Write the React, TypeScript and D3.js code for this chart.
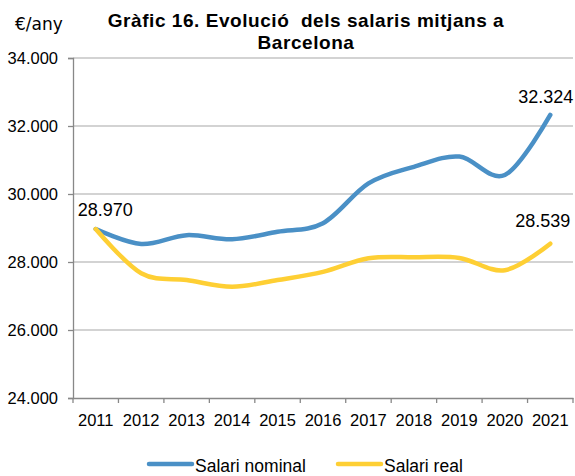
import React, { useEffect, useRef } from "react";
import * as d3 from "d3";

const years = ["2011", "2012", "2013", "2014", "2015", "2016", "2017", "2018", "2019", "2020", "2021"];
const salariNominal = [28970, 28530, 28790, 28670, 28890, 29140, 30310, 30800, 31100, 30560, 32324];
const salariReal = [28970, 27670, 27470, 27270, 27470, 27710, 28110, 28140, 28120, 27760, 28539];
const yTicks = [24000, 26000, 28000, 30000, 32000, 34000];

const BLUE = "#4a90c6";
const YELLOW = "#fecf34";
const FONT = "'Liberation Sans', Arial, sans-serif";

const fmt = (v: number) => d3.format(",")(v).replace(/,/g, ".");

const App: React.FC = () => {
  const svgRef = useRef<SVGSVGElement | null>(null);

  useEffect(() => {
    if (!svgRef.current) return;
    const width = 575;
    const height = 476;
    const margin = { top: 58, right: 2, bottom: 78, left: 73 };

    const svg = d3.select(svgRef.current).attr("width", width).attr("height", height);
    svg.selectAll("*").remove();

    const x = d3
      .scaleBand<string>()
      .domain(years)
      .range([margin.left, width - margin.right])
      .padding(0);
    const y = d3
      .scaleLinear()
      .domain([24000, 34000])
      .range([height - margin.bottom, margin.top]);
    const cx = (i: number) => x(years[i])! + x.bandwidth() / 2;

    // titre
    const title = svg
      .append("text")
      .attr("text-anchor", "middle")
      .style("font-family", FONT)
      .style("font-weight", "bold")
      .style("font-size", "19px")
      .style("letter-spacing", "0.55px")
      .style("white-space", "pre");
    title.append("tspan").attr("x", 306).attr("y", 27).text("Gràfic 16. Evolució  dels salaris mitjans a");
    title.append("tspan").attr("x", 306).attr("y", 49).text("Barcelona");

    svg
      .append("text")
      .attr("x", 15)
      .attr("y", 30)
      .style("font-family", "'DejaVu Sans', sans-serif")
      .style("font-size", "17px")
      .text("€/any");

    // grille
    svg
      .append("g")
      .selectAll("line")
      .data(yTicks.filter((d) => d > 24000))
      .enter()
      .append("line")
      .attr("x1", margin.left)
      .attr("x2", width - margin.right)
      .attr("y1", (d) => y(d))
      .attr("y2", (d) => y(d))
      .style("stroke", "#c4c4c4")
      .style("stroke-width", 1.3);

    // axe Y
    const yAxis = svg
      .append("g")
      .attr("transform", `translate(${margin.left},0)`)
      .call(
        d3
          .axisLeft(y)
          .tickValues(yTicks)
          .tickSize(5)
          .tickPadding(10)
          .tickFormat((d) => fmt(d as number))
      );
    yAxis.select(".domain").style("stroke", "#888").style("stroke-width", 1.3);
    yAxis.selectAll("line").style("stroke", "#888").style("stroke-width", 1.3);
    yAxis
      .selectAll("text")
      .style("font-family", FONT)
      .style("font-size", "16.5px")
      .style("fill", "#000");

    // axe X
    const xAxis = svg
      .append("g")
      .attr("transform", `translate(0,${height - margin.bottom})`)
      .call(d3.axisBottom(x).tickSize(0).tickPadding(16));
    xAxis.select(".domain").style("stroke", "#888").style("stroke-width", 1.3);
    xAxis
      .selectAll("text")
      .style("font-family", FONT)
      .style("font-size", "16.5px")
      .style("fill", "#000");
    xAxis
      .append("g")
      .selectAll("line")
      .data([...years.map((d) => x(d)!), width - margin.right])
      .enter()
      .append("line")
      .attr("x1", (d) => d)
      .attr("x2", (d) => d)
      .attr("y1", 0)
      .attr("y2", 5)
      .style("stroke", "#888")
      .style("stroke-width", 1.3);

    // courbes
    const line = d3
      .line<number>()
      .x((_, i) => cx(i))
      .y((d) => y(d))
      .curve(d3.curveCatmullRom.alpha(0));

    svg
      .append("path")
      .datum(salariNominal)
      .attr("d", line)
      .style("fill", "none")
      .style("stroke", BLUE)
      .style("stroke-width", 4.5)
      .style("stroke-linecap", "round");
    svg
      .append("path")
      .datum(salariReal)
      .attr("d", line)
      .style("fill", "none")
      .style("stroke", YELLOW)
      .style("stroke-width", 4.5)
      .style("stroke-linecap", "round");

    // étiquettes
    const last = years.length - 1;
    const labels = [
      { v: salariNominal[0], x: cx(0) - 18, y: y(salariNominal[0]) - 13 },
      { v: salariNominal[last], x: cx(last) - 32, y: y(salariNominal[last]) - 12 },
      { v: salariReal[last], x: cx(last) - 35, y: y(salariReal[last]) - 17 },
    ];
    svg
      .append("g")
      .selectAll("text")
      .data(labels)
      .enter()
      .append("text")
      .attr("x", (d) => d.x)
      .attr("y", (d) => d.y)
      .style("font-family", FONT)
      .style("font-size", "18px")
      .text((d) => fmt(d.v));

    // légende
    const legend = [
      { name: "Salari nominal", color: BLUE, x: 149 },
      { name: "Salari real", color: YELLOW, x: 338 },
    ];
    const lg = svg.append("g").selectAll("g").data(legend).enter().append("g");
    lg.append("line")
      .attr("x1", (d) => d.x)
      .attr("x2", (d) => d.x + 43)
      .attr("y1", 464)
      .attr("y2", 464)
      .style("stroke", (d) => d.color)
      .style("stroke-width", 4.5)
      .style("stroke-linecap", "round");
    lg.append("text")
      .attr("x", (d) => d.x + 46)
      .attr("y", 472)
      .style("font-family", FONT)
      .style("font-size", "17.5px")
      .text((d) => d.name);
  }, []);

  return (
    <div style={{ position: "absolute", left: 0, top: 0 }}>
      <svg ref={svgRef}></svg>
    </div>
  );
};

export default App;
